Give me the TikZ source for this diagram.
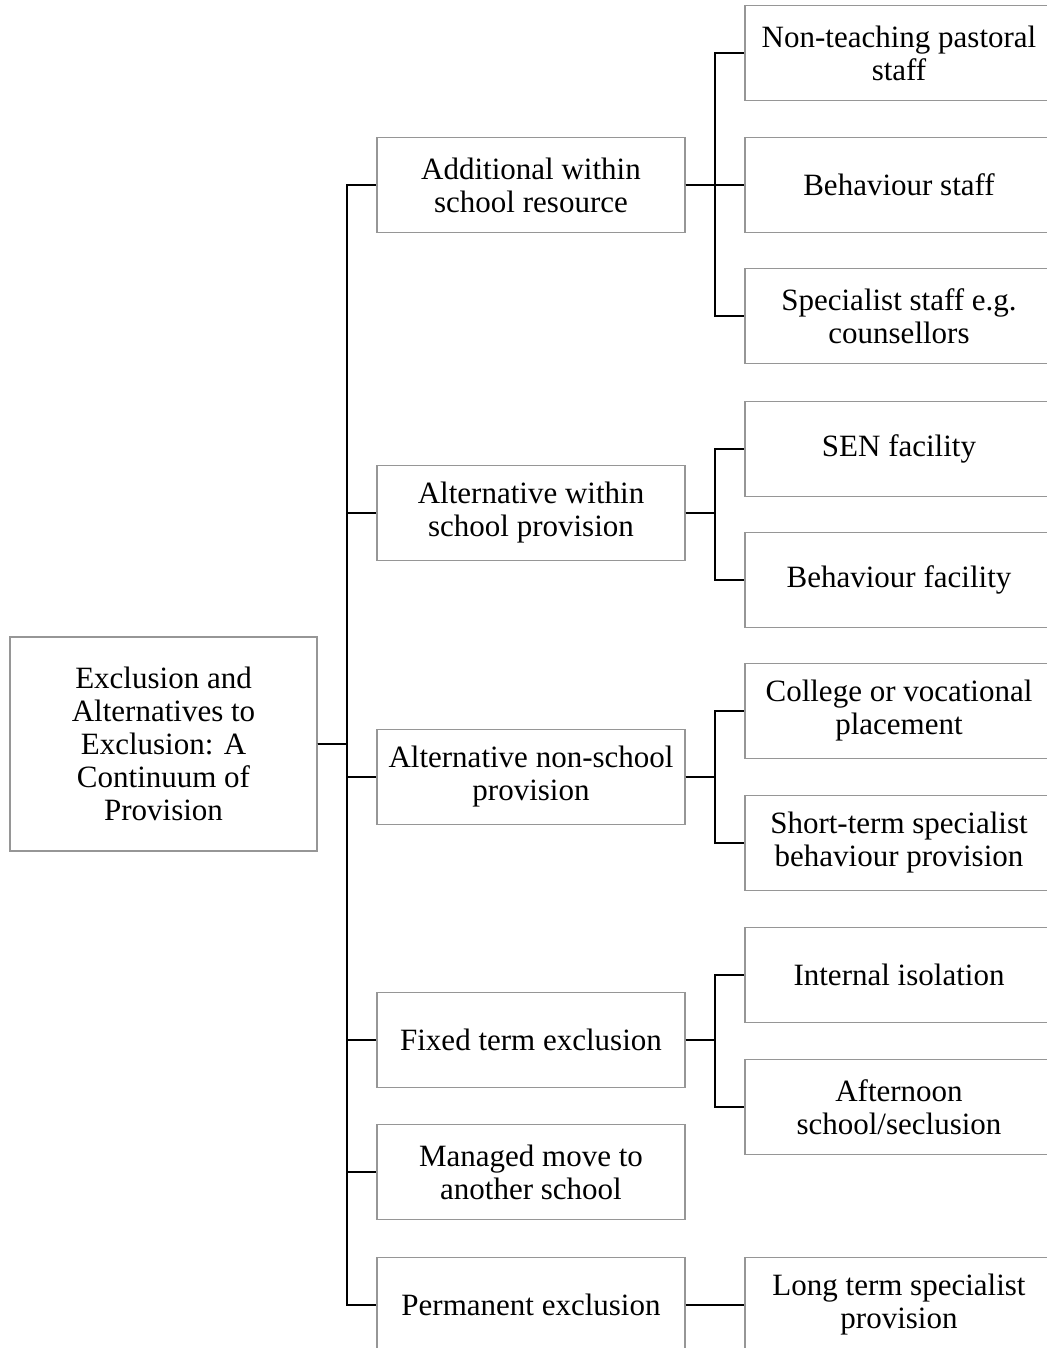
\documentclass[tikz,border=0pt]{standalone}
\usepackage{fontspec}
\setmainfont{Liberation Serif}
\usepackage{tikz}
\usetikzlibrary{positioning, calc}
\definecolor{boxgray}{RGB}{150, 150, 150}
\tikzset{
    blk/.style  ={draw=boxgray, line width=1.3pt, fill=white,
                  minimum width=308pt, minimum height=95pt, inner sep=0pt,
                  align=center, font=\fontsize{31}{33}\selectfont},
    rootblk/.style={blk, minimum width=307pt, minimum height=214pt},
    ln/.style   ={draw=black, line width=2.6pt}
}
\begin{document}
\begin{tikzpicture}[x=1pt, y=-1pt]
  \useasboundingbox (0,0) rectangle (1046,1348);

  % root and the bus
  \node[rootblk] (root) at (163.5,744) {Exclusion and\\Alternatives to\\Exclusion: A\\Continuum of\\Provision};
  \coordinate (bus) at (347,0);
  \coordinate (sub) at (715,0);

  % middle column
  \node[blk] (addres)  at (531,185)  {Additional within\\school resource};
  \node[blk] (altin)   at (531,513)  {Alternative within\\school provision};
  \node[blk] (altout)  at (531,777)  {Alternative non-school\\provision};
  \node[blk] (fixed)   at (531,1040) {Fixed term exclusion};
  \node[blk] (managed) at (531,1172) {Managed move to\\another school};
  \node[blk] (perm)    at (531,1305) {Permanent exclusion};

  % right column
  \node[blk] (pastoral) at (899,53)   {Non-teaching pastoral\\staff};
  \node[blk] (behstaff) at (899,185)  {Behaviour staff};
  \node[blk] (special)  at (899,316)  {Specialist staff e.g.\\counsellors};
  \node[blk] (sen)      at (899,449)  {SEN facility};
  \node[blk] (behfac)   at (899,580)  {Behaviour facility};
  \node[blk] (college)  at (899,711)  {College or vocational\\placement};
  \node[blk] (shortterm)at (899,843)  {Short-term specialist\\behaviour provision};
  \node[blk] (isolation)at (899,975)  {Internal isolation};
  \node[blk] (afternoon)at (899,1107) {Afternoon\\school/seclusion};
  \node[blk] (longterm) at (899,1305) {Long term specialist\\provision};

  % root to middle
  \foreach \m in {addres, altin, altout, fixed, managed, perm}
    \draw[ln] (root.east) -- (root.east -| bus) |- (\m.west);

  % middle to right
  \foreach \m/\r in {addres/pastoral, addres/behstaff, addres/special,
                     altin/sen, altin/behfac,
                     altout/college, altout/shortterm,
                     fixed/isolation, fixed/afternoon}
    \draw[ln] (\m.east) -- (\m.east -| sub) |- (\r.west);
  \draw[ln] (perm.east) -- (longterm.west);
\end{tikzpicture}
\end{document}
